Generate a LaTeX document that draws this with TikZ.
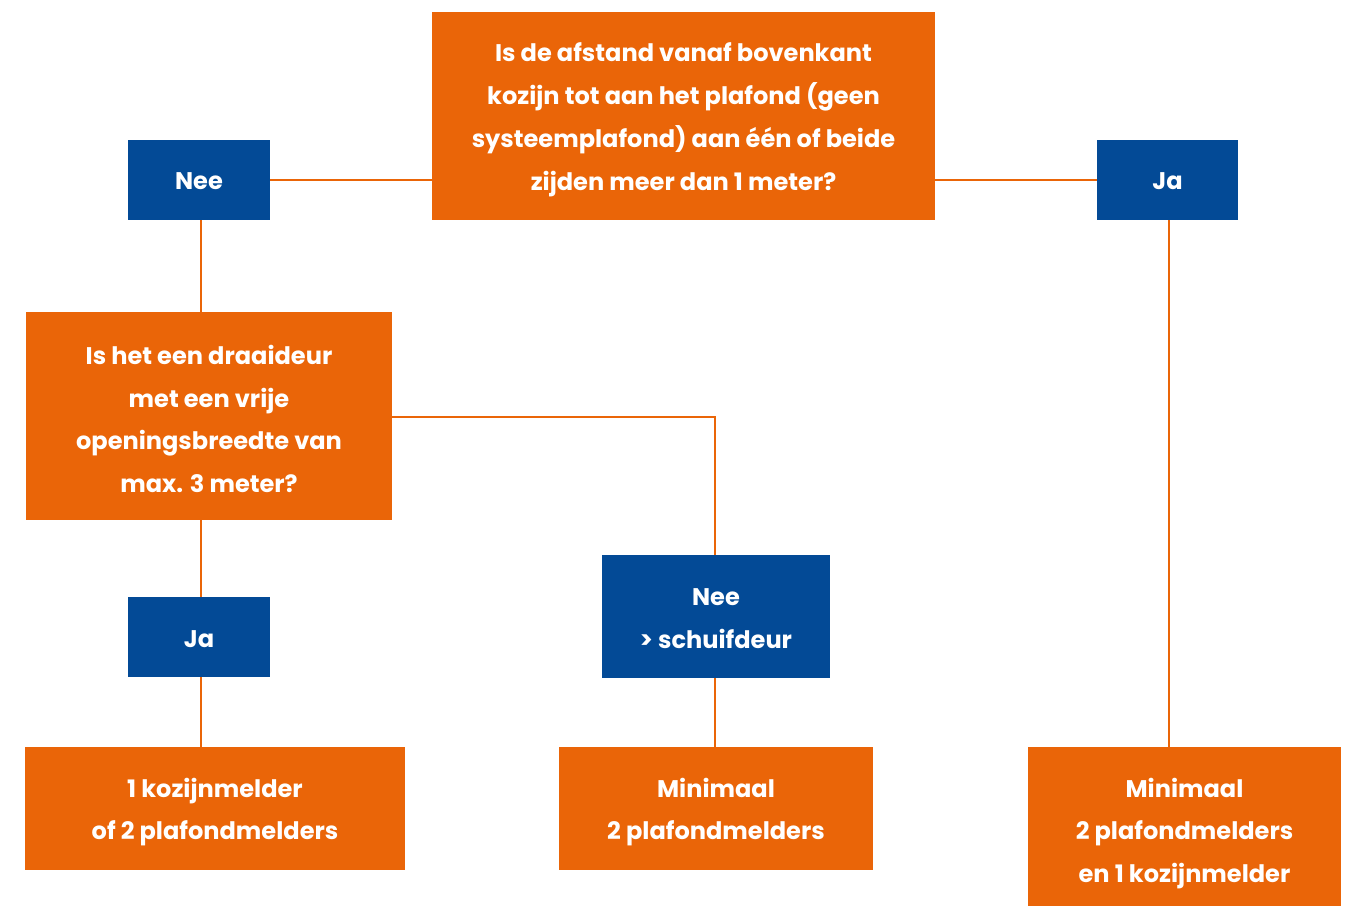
\documentclass[tikz,border=0pt]{standalone}
\usepackage{fontspec}
\setmainfont{Poppins}
\definecolor{orng}{HTML}{EA6508}
\definecolor{blu}{HTML}{034A96}
\begin{document}
\begin{tikzpicture}[x=0.02cm,y=-0.02cm,
  box/.style={draw=none,inner sep=0pt},
  obox/.style={box,fill=orng},
  bbox/.style={box,fill=blu},
  txt/.style={text=white,inner sep=0pt,align=center,
    font={\bfseries\fontsize{13.7}{24.4}\selectfont}},
  conn/.style={draw=orng,line width=1.2pt}]
\useasboundingbox (0,0) rectangle (1351,906);
\node[obox,minimum width=503*0.02cm,minimum height=208*0.02cm] (q1) at (683.5,116) {};
\node[txt] (q1t) at ([yshift=-0.08cm]q1.center)
  {Is de afstand vanaf bovenkant\\kozijn tot aan het plafond (geen\\systeemplafond) aan één of beide\\zijden meer dan 1 meter?};
\node[bbox,minimum width=142*0.02cm,minimum height=80*0.02cm] (nee1) at (199,180) {};
\node[txt] (nee1t) at ([yshift=-0.03cm]nee1.center) {Nee};
\node[bbox,minimum width=141*0.02cm,minimum height=80*0.02cm] (ja1) at (1167.5,180) {};
\node[txt] (ja1t) at ([yshift=-0.03cm]ja1.center) {Ja};
\node[obox,minimum width=366*0.02cm,minimum height=208*0.02cm] (q2) at (209,416) {};
\node[txt] (q2t) at ([yshift=-0.06cm]q2.center)
  {Is het een draaideur\\met een vrije\\openingsbreedte van\\max. 3 meter?};
\node[bbox,minimum width=142*0.02cm,minimum height=80*0.02cm] (jaL) at (199,637) {};
\node[txt] (jaLt) at ([yshift=-0.05cm]jaL.center) {Ja};
\node[bbox,minimum width=228*0.02cm,minimum height=123*0.02cm] (nee2) at (716,616.5) {};
\node[txt] (nee2t) at ([yshift=-0.04cm]nee2.center) {Nee\\> schuifdeur};
\node[obox,minimum width=380*0.02cm,minimum height=123*0.02cm] (bL) at (215,808.5) {};
\node[txt] (bLt) at ([yshift=-0.07cm]bL.center) {1 kozijnmelder\\of 2 plafondmelders};
\node[obox,minimum width=314*0.02cm,minimum height=123*0.02cm] (bM) at (716,808.5) {};
\node[txt] (bMt) at ([yshift=-0.07cm]bM.center) {Minimaal\\2 plafondmelders};
\node[obox,minimum width=313*0.02cm,minimum height=159*0.02cm] (bR) at (1184.5,826.5) {};
\node[txt] (bRt) at ([yshift=-0.14cm]bR.center) {Minimaal\\2 plafondmelders\\en 1 kozijnmelder};
\draw[conn] (nee1.east) -- (nee1.east -| q1.west);
\draw[conn] (ja1.west) -- (ja1.west -| q1.east);
\draw[conn] ([xshift=0.04cm]nee1.south) -- ([xshift=0.04cm]nee1.south |- q2.north);
\draw[conn] ([xshift=0.04cm]jaL.north) -- ([xshift=0.04cm]jaL.north |- q2.south);
\draw[conn] ([xshift=0.04cm]jaL.south) -- ([xshift=0.04cm]jaL.south |- bL.north);
\draw[conn] ([yshift=-0.02cm]q2.east) -| ([xshift=-0.02cm]nee2.north);
\draw[conn] ([xshift=-0.02cm]nee2.south) -- ([xshift=-0.02cm]bM.north);
\draw[conn] ([xshift=0.03cm]ja1.south) -- ([xshift=0.03cm]ja1.south |- bR.north);
\end{tikzpicture}
\end{document}
